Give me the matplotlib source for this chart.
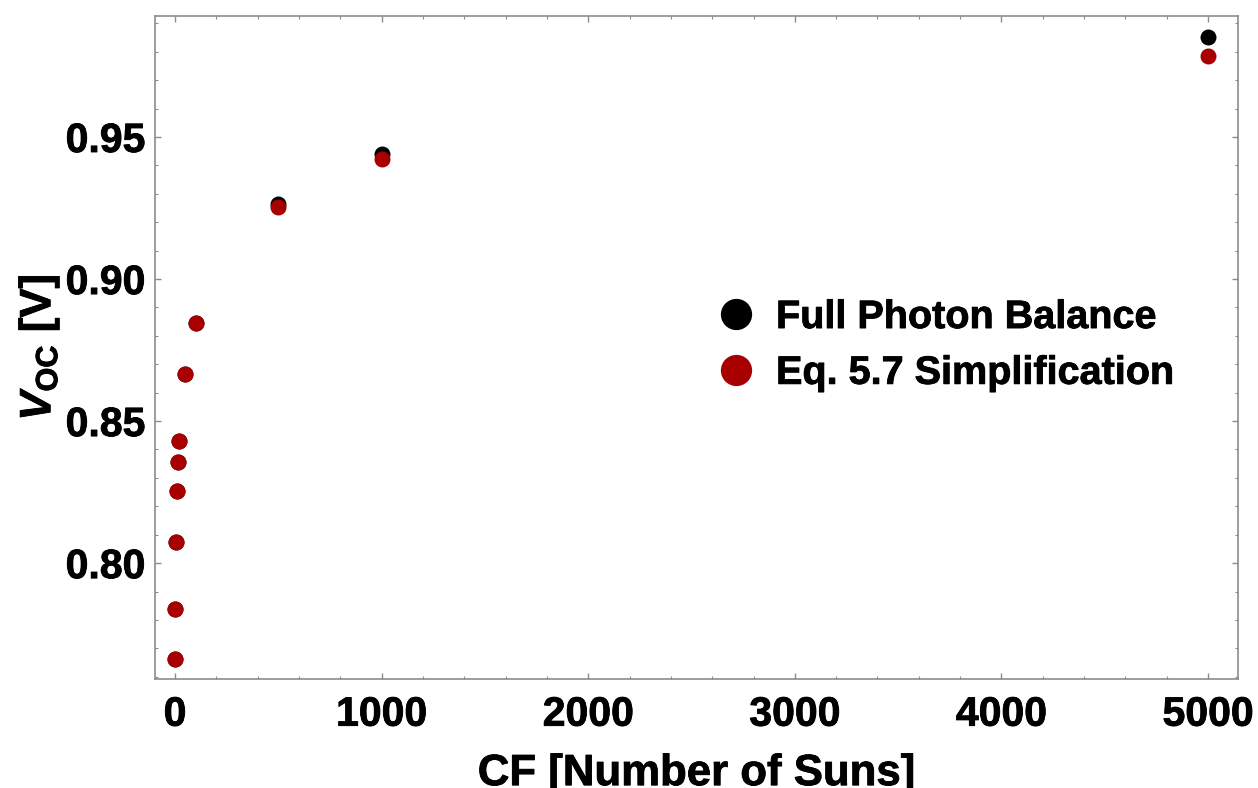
import matplotlib
matplotlib.use("Agg")
import matplotlib.pyplot as plt
import matplotlib.patheffects as pe
from matplotlib.lines import Line2D
from matplotlib.ticker import MultipleLocator, FormatStrFormatter

plt.rcParams['font.family'] = ['Liberation Sans', 'DejaVu Sans']
plt.rcParams['font.weight'] = 'bold'
plt.rcParams['mathtext.fontset'] = 'custom'
plt.rcParams['mathtext.rm'] = 'Liberation Sans:bold'
plt.rcParams['mathtext.it'] = 'Liberation Sans:bold:italic'
plt.rcParams['mathtext.bf'] = 'Liberation Sans:bold'

# concentration factor (suns) and open-circuit voltage (V)
cf = [1, 2, 5, 10, 15, 20, 50, 100, 500, 1000, 5000]
voc_full = [0.7662, 0.7838, 0.8074, 0.8254, 0.8356, 0.8430, 0.8665, 0.8845, 0.9264, 0.9440, 0.9852]
voc_simple = [0.7662, 0.7838, 0.8074, 0.8254, 0.8356, 0.8430, 0.8665, 0.8845, 0.9254, 0.9423, 0.9785]

labels = ["Full Photon Balance", "Eq. 5.7 Simplification"]
colors = ["black", "#a80000"]

# slightly heavier glyphs
heavy = [pe.withStroke(linewidth=0.6, foreground='black')]

fig = plt.figure(figsize=(12.58, 7.88), dpi=100)
ax = fig.add_axes([0.1232, 0.1383, 0.8609, 0.8414])

ax.plot(cf, voc_full, 'o', color=colors[0], markersize=11.5, markeredgewidth=0)
ax.plot(cf, voc_simple, 'o', color=colors[1], markersize=11.5, markeredgewidth=0)

ax.set_xlim(-97, 5145)
ax.set_ylim(0.7592, 0.9926)

ax.xaxis.set_major_locator(MultipleLocator(1000))
ax.xaxis.set_minor_locator(MultipleLocator(200))
ax.yaxis.set_major_locator(MultipleLocator(0.05))
ax.yaxis.set_minor_locator(MultipleLocator(0.01))
ax.yaxis.set_major_formatter(FormatStrFormatter('%.2f'))

for s in ax.spines.values():
    s.set_color('#8c8c8c')
    s.set_linewidth(1.2)
ax.tick_params(which='both', direction='in', top=True, right=True, color='#8c8c8c')
ax.tick_params(which='major', length=4, width=1, labelsize=29.5, pad=7)
ax.tick_params(which='minor', length=2.5, width=0.8)
ax.tick_params(axis='x', which='major', pad=12)

ax.set_xlabel("CF [Number of Suns]", fontsize=31.5, fontweight='bold', labelpad=14)
ax.set_ylabel(r"$\mathit{V}_{\mathrm{OC}}$ [V]", fontsize=31.5, fontweight='bold', labelpad=3)

handles = [Line2D([], [], marker='o', linestyle='', color=c, markersize=22.5, markeredgewidth=0)
           for c in colors]
leg = ax.legend(handles, labels, loc='upper left', bbox_to_anchor=(0.504, 0.5985),
                frameon=False, fontsize=28.5, handletextpad=0.5, labelspacing=0.45,
                borderaxespad=0, handlelength=1.0)

texts = ax.get_xticklabels() + ax.get_yticklabels() + leg.get_texts()
texts += [ax.xaxis.label, ax.yaxis.label]
for t in texts:
    t.set_path_effects(heavy)

fig.savefig("out.png", dpi=100)
